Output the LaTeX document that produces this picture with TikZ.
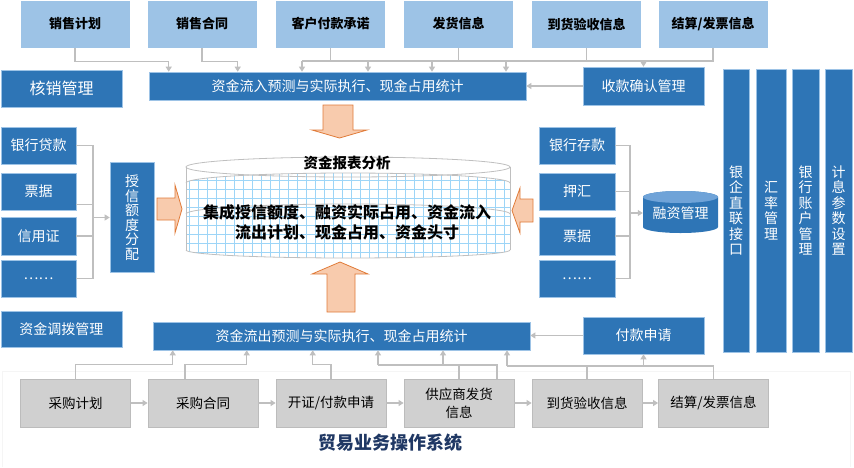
\documentclass[tikz,border=0pt]{standalone}
\usepackage{fontspec}
\setmainfont{Noto Sans CJK SC}
\usepackage{xcolor}
\usepackage{tikz}
\usetikzlibrary{arrows.meta,positioning,calc}
\definecolor{tmblue}{HTML}{2E75B6}
\definecolor{tmedge}{HTML}{9DC3E6}
\definecolor{tmsky}{HTML}{9DC3E6}
\definecolor{tmgray}{HTML}{D0D0D0}
\definecolor{tmgrayline}{HTML}{BCBCBC}
\definecolor{tmwire}{HTML}{BFBFBF}
\definecolor{tmorange}{HTML}{F8CBAD}
\definecolor{tmorangeline}{HTML}{E07B39}
\definecolor{tmgrid}{HTML}{9DD5F7}
\definecolor{tmcyl}{HTML}{BFBFBF}
\definecolor{tmcyltop}{HTML}{6FA3D8}
\definecolor{tmnavy}{HTML}{203864}
\tikzset{
  skybox/.style={rectangle,fill=tmsky,draw=white,line width=0.6pt,
                 minimum width=110pt,minimum height=48pt,inner sep=0pt,
                 font=\fontsize{13pt}{15pt}\selectfont\bfseries,text=black},
  bluebox/.style={rectangle,fill=tmblue,draw=tmedge,line width=0.6pt,
                  inner sep=0pt,align=center,text=white,
                  font=\fontsize{14pt}{16pt}\selectfont},
  greybox/.style={rectangle,fill=tmgray,draw=tmgrayline,line width=0.8pt,
                  minimum width=110pt,minimum height=48pt,inner sep=0pt,
                  align=center,text=black,font=\fontsize{13.5pt}{18pt}\selectfont},
  vbar/.style={bluebox,minimum height=283pt,font=\fontsize{14pt}{15.5pt}\selectfont},
  link/.style={-{Triangle[length=5pt,width=6pt]},line width=1.1pt,draw=tmwire},
  wire/.style={line width=1.1pt,draw=tmwire},
  orarrow/.style={fill=tmorange,draw=tmorangeline,line width=0.8pt},
  cylline/.style={draw=tmcyl,line width=0.8pt},
}

\begin{document}
\begin{tikzpicture}[x=1pt,y=-1pt]
  \useasboundingbox (0,0) rectangle (854,467);
  % bottom frame
  \draw[black!4,line width=0.8pt] (2,467) -- (2,371) -- (850,371) -- (850,467);

  % sales side
  \node[skybox] (sp1) at (75,24) {销售计划};
  \node[skybox] (sp2) at (202,24) {销售合同};
  \node[skybox] (sp3) at (330.5,24) {客户付款承诺};
  \node[skybox] (sp4) at (458.5,24) {发货信息};
  \node[skybox] (sp5) at (586.5,24) {到货验收信息};
  \node[skybox] (sp6) at (713,24) {结算/发票信息};

  \node[bluebox,minimum width=121pt,minimum height=37pt,font=\fontsize{16pt}{18pt}\selectfont]
    (verify) at (61.5,88.5) {核销管理};
  \node[bluebox,minimum width=377pt,minimum height=28pt] (inbar) at (337.5,86)
    {资金流入预测与实际执行、现金占用统计};
  \node[bluebox,minimum width=121pt,minimum height=38pt] (rcv) at (643.5,86) {收款确认管理};

  \coordinate (busin) at (302,61);
  \draw[link] (sp1.south) -- ++(0,13) -| ([xshift=20pt]inbar.north west);
  \draw[link] (sp2.south) -- ++(0,13) -| ([xshift=89pt]inbar.north west);
  \draw[wire] (sp3.south) |- (busin);
  \draw[wire] (busin) -| (sp6.south);
  \draw[wire] (sp4.south) -- (sp4.south |- busin);
  \draw[wire] (sp5.south) -- (sp5.south |- busin);
  \draw[link] (busin) -- (busin |- inbar.north);
  \foreach \dx in {66,130,204}
    \draw[link] ([xshift=\dx pt]busin) -- ([xshift=\dx pt]busin |- inbar.north);
  \draw[link] (rcv.north |- busin) -- (rcv.north);
  \draw[link] (rcv.west) -- (inbar.east);

  % right bars
  \node[vbar,minimum width=26pt] (bankif) at (736,210.5) {银\\企\\直\\联\\接\\口};
  \node[vbar,minimum width=30pt] (fxrate) at (771,210.5) {汇\\率\\管\\理};
  \node[vbar,minimum width=27pt] (acct) at (805.5,210.5) {银\\行\\账\\户\\管\\理};
  \node[vbar,minimum width=27pt] (intset) at (838.5,210.5) {计\\息\\参\\数\\设\\置};

  % credit side
  \node[bluebox,minimum width=75pt,minimum height=37pt] (lb1) at (38.5,145.5) {银行贷款};
  \node[bluebox,minimum width=75pt,minimum height=37pt] (lb2) at (38.5,191.5) {票据};
  \node[bluebox,minimum width=75pt,minimum height=38pt] (lb3) at (38.5,236) {信用证};
  \node[bluebox,minimum width=75pt,minimum height=37pt] (lb4) at (38.5,278.5) {……};
  \node[bluebox,minimum width=44pt,minimum height=110pt,font=\fontsize{14pt}{14.5pt}\selectfont]
    (credit) at (132,217.5) {授\\信\\额\\度\\分\\配};
  \coordinate (lbus) at (93,217.5);
  \draw[wire] (lb1.east) -| (lbus);
  \draw[wire] ([yshift=-13pt]lb2.east) -- ([yshift=-13pt]lb2.east -| lbus);
  \draw[wire] (lb3.east) -- (lb3.east -| lbus);
  \draw[wire] (lb4.east) -| (lbus);
  \draw[link] (lbus) -- (credit.west);

  % financing side
  \node[bluebox,minimum width=76pt,minimum height=37pt] (rb1) at (577,145.5) {银行存款};
  \node[bluebox,minimum width=76pt,minimum height=37pt] (rb2) at (577,191.5) {押汇};
  \node[bluebox,minimum width=76pt,minimum height=38pt] (rb3) at (577,236) {票据};
  \node[bluebox,minimum width=76pt,minimum height=37pt] (rb4) at (577,278.5) {……};
  \fill[tmblue] (643,197) -- (643,227) arc[start angle=180,end angle=360,x radius=37.5pt,y radius=6pt]
    -- (718,197) arc[start angle=0,end angle=180,x radius=37.5pt,y radius=6pt] -- cycle;
  \fill[tmcyltop] (680.5,197) ellipse[x radius=37.5pt,y radius=6pt];
  \node[minimum width=75pt,minimum height=43pt,inner sep=0pt,text=white,
        font=\fontsize{14pt}{16pt}\selectfont] (fin) at (680.5,213) {融资管理};
  \coordinate (rbus) at (630,213);
  \draw[wire] (rb1.east) -| (rbus);
  \draw[wire] (rb2.east) -- (rb2.east -| rbus);
  \draw[wire] (rb3.east) -- (rb3.east -| rbus);
  \draw[wire] (rb4.east) -| (rbus);
  \draw[link] (rbus) -- (fin.west);

  % report cylinder
  \begin{scope}
    \clip (186,183) arc[start angle=180,end angle=0,x radius=162pt,y radius=10pt]
      -- (510,250) arc[start angle=0,end angle=-180,x radius=162pt,y radius=8pt] -- cycle;
    \draw[tmgrid,line width=0.6pt,step=9pt] (180,270) grid (520,150);
  \end{scope}
  \draw[cylline] (348,167) ellipse[x radius=162pt,y radius=10pt];
  \draw[cylline] (186,167) -- (186,250);
  \draw[cylline] (510,167) -- (510,250);
  \draw[cylline] (186,183) arc[start angle=180,end angle=0,x radius=162pt,y radius=10pt];
  \draw[cylline] (186,214) arc[start angle=180,end angle=0,x radius=162pt,y radius=10pt];
  \draw[cylline] (510,250) arc[start angle=0,end angle=-180,x radius=162pt,y radius=8pt];
  \node[font=\fontsize{14.5pt}{16pt}\selectfont\bfseries] (rpttitle) at (347,163) {资金报表分析};
  \node[align=center,font=\fontsize{16pt}{20pt}\selectfont\bfseries] (rpt) at (347,222)
    {集成授信额度、融资实际占用、资金流入\\流出计划、现金占用、资金头寸};

  % big arrows
  \draw[orarrow] (323,105) -- (353,105) -- (353,130) -- (367,130) -- (339.5,138)
    -- (312,130) -- (323,130) -- cycle;
  \draw[orarrow] (327,312) -- (355,312) -- (355,274) -- (368,274) -- (340,262)
    -- (312,274) -- (327,274) -- cycle;
  \draw[orarrow] (157,198) -- (175,198) -- (175,185) -- (182,209) -- (175,233)
    -- (175,220) -- (157,220) -- cycle;
  \draw[orarrow] (533,199) -- (520,199) -- (520,188) -- (512,210.5) -- (520,233)
    -- (520,222) -- (533,222) -- cycle;

  % purchase side
  \node[bluebox,minimum width=121pt,minimum height=36pt] (alloc) at (61.5,329) {资金调拨管理};
  \node[bluebox,minimum width=377pt,minimum height=28pt] (outbar) at (341.5,336)
    {资金流出预测与实际执行、现金占用统计};
  \node[bluebox,minimum width=121pt,minimum height=37pt] (pay) at (643.5,335.5) {付款申请};
  \draw[link] (pay.west) -- (pay.west -| outbar.east);

  \node[greybox] (b1) at (75.5,403) {采购计划};
  \node[greybox] (b2) at (203,403) {采购合同};
  \node[greybox] (b3) at (331,403) {开证/付款申请};
  \node[greybox] (b4) at (459,403) {供应商发货\\信息};
  \node[greybox] (b5) at (587,403) {到货验收信息};
  \node[greybox] (b6) at (713.5,403) {结算/发票信息};
  \foreach \a/\b in {b1/b2,b2/b3,b3/b4,b4/b5,b5/b6}
    \draw[link] (\a.east) -- (\b.west);

  \draw[link] (b1.north) -- ++(0,-14) -| ([xshift=20pt]outbar.south west);
  \draw[link] ([xshift=-18pt]b2.north) -- ++(0,-14) -| ([xshift=94pt]outbar.south west);
  \draw[link] (b3.north) -- ++(0,-14) -| ([xshift=160pt]outbar.south west);
  \coordinate (busout) at (378,365);
  \draw[link] (busout) -- (busout |- outbar.south);
  \draw[link] ([xshift=65pt]busout) -- ([xshift=65pt]busout |- outbar.south);
  \draw[wire] (busout) -- ([xshift=38pt]b4.north |- busout) -- ([xshift=38pt]b4.north);
  \draw[wire] (b4.north) -- (b4.north |- busout);
  \coordinate (busright) at (507,366);
  \draw[link] (busright) -- (busright |- outbar.south);
  \draw[wire] (busright) -| (b6.north);
  \draw[wire] (b5.north) -- (b5.north |- busright);
  \draw[link] (pay.south |- busright) -- (pay.south);

  \node[text=tmnavy,font=\fontsize{18pt}{20pt}\selectfont\bfseries] (sysname) at (390,443)
    {贸易业务操作系统};
\end{tikzpicture}
\end{document}
